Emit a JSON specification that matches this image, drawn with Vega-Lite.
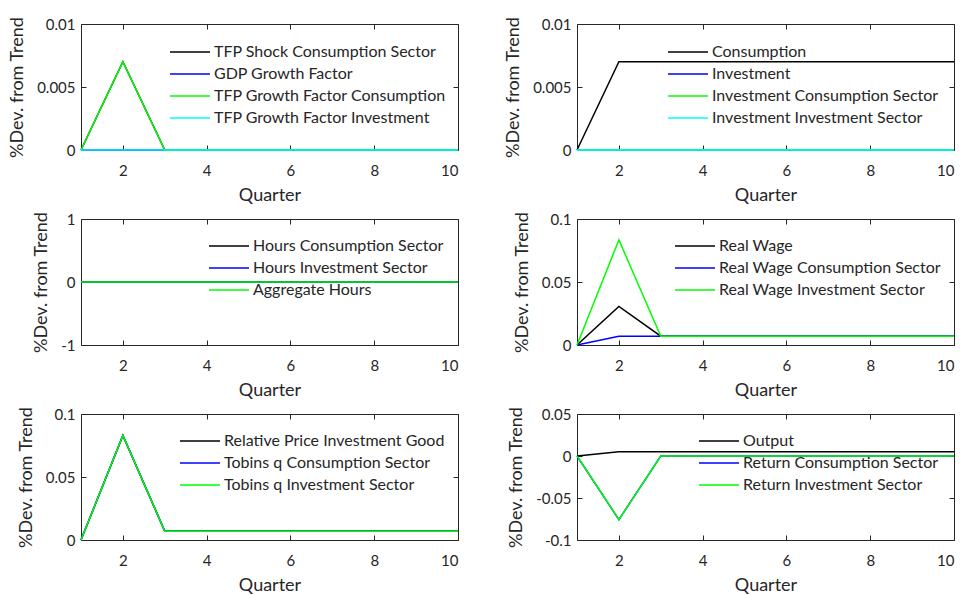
{
  "$schema": "https://vega.github.io/schema/vega-lite/v6.json",
  "background": "white",
  "padding": {"left": 8, "top": 16, "right": 5, "bottom": 5},
  "datasets": {
    "irf": [
      {"p":1,"s":"TFP Shock Consumption Sector","q":1,"v":0},{"p":1,"s":"TFP Shock Consumption Sector","q":2,"v":0.007},{"p":1,"s":"TFP Shock Consumption Sector","q":3,"v":0},{"p":1,"s":"TFP Shock Consumption Sector","q":4,"v":0},{"p":1,"s":"TFP Shock Consumption Sector","q":5,"v":0},{"p":1,"s":"TFP Shock Consumption Sector","q":6,"v":0},{"p":1,"s":"TFP Shock Consumption Sector","q":7,"v":0},{"p":1,"s":"TFP Shock Consumption Sector","q":8,"v":0},{"p":1,"s":"TFP Shock Consumption Sector","q":9,"v":0},{"p":1,"s":"TFP Shock Consumption Sector","q":10,"v":0},
      {"p":1,"s":"GDP Growth Factor","q":1,"v":0},{"p":1,"s":"GDP Growth Factor","q":2,"v":0},{"p":1,"s":"GDP Growth Factor","q":3,"v":0},{"p":1,"s":"GDP Growth Factor","q":4,"v":0},{"p":1,"s":"GDP Growth Factor","q":5,"v":0},{"p":1,"s":"GDP Growth Factor","q":6,"v":0},{"p":1,"s":"GDP Growth Factor","q":7,"v":0},{"p":1,"s":"GDP Growth Factor","q":8,"v":0},{"p":1,"s":"GDP Growth Factor","q":9,"v":0},{"p":1,"s":"GDP Growth Factor","q":10,"v":0},
      {"p":1,"s":"TFP Growth Factor Consumption","q":1,"v":0},{"p":1,"s":"TFP Growth Factor Consumption","q":2,"v":0.007},{"p":1,"s":"TFP Growth Factor Consumption","q":3,"v":0},{"p":1,"s":"TFP Growth Factor Consumption","q":4,"v":0},{"p":1,"s":"TFP Growth Factor Consumption","q":5,"v":0},{"p":1,"s":"TFP Growth Factor Consumption","q":6,"v":0},{"p":1,"s":"TFP Growth Factor Consumption","q":7,"v":0},{"p":1,"s":"TFP Growth Factor Consumption","q":8,"v":0},{"p":1,"s":"TFP Growth Factor Consumption","q":9,"v":0},{"p":1,"s":"TFP Growth Factor Consumption","q":10,"v":0},
      {"p":1,"s":"TFP Growth Factor Investment","q":1,"v":0},{"p":1,"s":"TFP Growth Factor Investment","q":2,"v":0},{"p":1,"s":"TFP Growth Factor Investment","q":3,"v":0},{"p":1,"s":"TFP Growth Factor Investment","q":4,"v":0},{"p":1,"s":"TFP Growth Factor Investment","q":5,"v":0},{"p":1,"s":"TFP Growth Factor Investment","q":6,"v":0},{"p":1,"s":"TFP Growth Factor Investment","q":7,"v":0},{"p":1,"s":"TFP Growth Factor Investment","q":8,"v":0},{"p":1,"s":"TFP Growth Factor Investment","q":9,"v":0},{"p":1,"s":"TFP Growth Factor Investment","q":10,"v":0},

      {"p":2,"s":"Consumption","q":1,"v":0},{"p":2,"s":"Consumption","q":2,"v":0.007},{"p":2,"s":"Consumption","q":3,"v":0.007},{"p":2,"s":"Consumption","q":4,"v":0.007},{"p":2,"s":"Consumption","q":5,"v":0.007},{"p":2,"s":"Consumption","q":6,"v":0.007},{"p":2,"s":"Consumption","q":7,"v":0.007},{"p":2,"s":"Consumption","q":8,"v":0.007},{"p":2,"s":"Consumption","q":9,"v":0.007},{"p":2,"s":"Consumption","q":10,"v":0.007},
      {"p":2,"s":"Investment","q":1,"v":0},{"p":2,"s":"Investment","q":2,"v":0},{"p":2,"s":"Investment","q":3,"v":0},{"p":2,"s":"Investment","q":4,"v":0},{"p":2,"s":"Investment","q":5,"v":0},{"p":2,"s":"Investment","q":6,"v":0},{"p":2,"s":"Investment","q":7,"v":0},{"p":2,"s":"Investment","q":8,"v":0},{"p":2,"s":"Investment","q":9,"v":0},{"p":2,"s":"Investment","q":10,"v":0},
      {"p":2,"s":"Investment Consumption Sector","q":1,"v":0},{"p":2,"s":"Investment Consumption Sector","q":2,"v":0},{"p":2,"s":"Investment Consumption Sector","q":3,"v":0},{"p":2,"s":"Investment Consumption Sector","q":4,"v":0},{"p":2,"s":"Investment Consumption Sector","q":5,"v":0},{"p":2,"s":"Investment Consumption Sector","q":6,"v":0},{"p":2,"s":"Investment Consumption Sector","q":7,"v":0},{"p":2,"s":"Investment Consumption Sector","q":8,"v":0},{"p":2,"s":"Investment Consumption Sector","q":9,"v":0},{"p":2,"s":"Investment Consumption Sector","q":10,"v":0},
      {"p":2,"s":"Investment Investment Sector","q":1,"v":0},{"p":2,"s":"Investment Investment Sector","q":2,"v":0},{"p":2,"s":"Investment Investment Sector","q":3,"v":0},{"p":2,"s":"Investment Investment Sector","q":4,"v":0},{"p":2,"s":"Investment Investment Sector","q":5,"v":0},{"p":2,"s":"Investment Investment Sector","q":6,"v":0},{"p":2,"s":"Investment Investment Sector","q":7,"v":0},{"p":2,"s":"Investment Investment Sector","q":8,"v":0},{"p":2,"s":"Investment Investment Sector","q":9,"v":0},{"p":2,"s":"Investment Investment Sector","q":10,"v":0},

      {"p":3,"s":"Hours Consumption Sector","q":1,"v":0},{"p":3,"s":"Hours Consumption Sector","q":2,"v":0},{"p":3,"s":"Hours Consumption Sector","q":3,"v":0},{"p":3,"s":"Hours Consumption Sector","q":4,"v":0},{"p":3,"s":"Hours Consumption Sector","q":5,"v":0},{"p":3,"s":"Hours Consumption Sector","q":6,"v":0},{"p":3,"s":"Hours Consumption Sector","q":7,"v":0},{"p":3,"s":"Hours Consumption Sector","q":8,"v":0},{"p":3,"s":"Hours Consumption Sector","q":9,"v":0},{"p":3,"s":"Hours Consumption Sector","q":10,"v":0},
      {"p":3,"s":"Hours Investment Sector","q":1,"v":0},{"p":3,"s":"Hours Investment Sector","q":2,"v":0},{"p":3,"s":"Hours Investment Sector","q":3,"v":0},{"p":3,"s":"Hours Investment Sector","q":4,"v":0},{"p":3,"s":"Hours Investment Sector","q":5,"v":0},{"p":3,"s":"Hours Investment Sector","q":6,"v":0},{"p":3,"s":"Hours Investment Sector","q":7,"v":0},{"p":3,"s":"Hours Investment Sector","q":8,"v":0},{"p":3,"s":"Hours Investment Sector","q":9,"v":0},{"p":3,"s":"Hours Investment Sector","q":10,"v":0},
      {"p":3,"s":"Aggregate Hours","q":1,"v":0},{"p":3,"s":"Aggregate Hours","q":2,"v":0},{"p":3,"s":"Aggregate Hours","q":3,"v":0},{"p":3,"s":"Aggregate Hours","q":4,"v":0},{"p":3,"s":"Aggregate Hours","q":5,"v":0},{"p":3,"s":"Aggregate Hours","q":6,"v":0},{"p":3,"s":"Aggregate Hours","q":7,"v":0},{"p":3,"s":"Aggregate Hours","q":8,"v":0},{"p":3,"s":"Aggregate Hours","q":9,"v":0},{"p":3,"s":"Aggregate Hours","q":10,"v":0},

      {"p":4,"s":"Real Wage","q":1,"v":0},{"p":4,"s":"Real Wage","q":2,"v":0.0306},{"p":4,"s":"Real Wage","q":3,"v":0.007},{"p":4,"s":"Real Wage","q":4,"v":0.007},{"p":4,"s":"Real Wage","q":5,"v":0.007},{"p":4,"s":"Real Wage","q":6,"v":0.007},{"p":4,"s":"Real Wage","q":7,"v":0.007},{"p":4,"s":"Real Wage","q":8,"v":0.007},{"p":4,"s":"Real Wage","q":9,"v":0.007},{"p":4,"s":"Real Wage","q":10,"v":0.007},
      {"p":4,"s":"Real Wage Consumption Sector","q":1,"v":0},{"p":4,"s":"Real Wage Consumption Sector","q":2,"v":0.007},{"p":4,"s":"Real Wage Consumption Sector","q":3,"v":0.007},{"p":4,"s":"Real Wage Consumption Sector","q":4,"v":0.007},{"p":4,"s":"Real Wage Consumption Sector","q":5,"v":0.007},{"p":4,"s":"Real Wage Consumption Sector","q":6,"v":0.007},{"p":4,"s":"Real Wage Consumption Sector","q":7,"v":0.007},{"p":4,"s":"Real Wage Consumption Sector","q":8,"v":0.007},{"p":4,"s":"Real Wage Consumption Sector","q":9,"v":0.007},{"p":4,"s":"Real Wage Consumption Sector","q":10,"v":0.007},
      {"p":4,"s":"Real Wage Investment Sector","q":1,"v":0},{"p":4,"s":"Real Wage Investment Sector","q":2,"v":0.0834},{"p":4,"s":"Real Wage Investment Sector","q":3,"v":0.007},{"p":4,"s":"Real Wage Investment Sector","q":4,"v":0.007},{"p":4,"s":"Real Wage Investment Sector","q":5,"v":0.007},{"p":4,"s":"Real Wage Investment Sector","q":6,"v":0.007},{"p":4,"s":"Real Wage Investment Sector","q":7,"v":0.007},{"p":4,"s":"Real Wage Investment Sector","q":8,"v":0.007},{"p":4,"s":"Real Wage Investment Sector","q":9,"v":0.007},{"p":4,"s":"Real Wage Investment Sector","q":10,"v":0.007},

      {"p":5,"s":"Relative Price Investment Good","q":1,"v":0},{"p":5,"s":"Relative Price Investment Good","q":2,"v":0.083},{"p":5,"s":"Relative Price Investment Good","q":3,"v":0.007},{"p":5,"s":"Relative Price Investment Good","q":4,"v":0.007},{"p":5,"s":"Relative Price Investment Good","q":5,"v":0.007},{"p":5,"s":"Relative Price Investment Good","q":6,"v":0.007},{"p":5,"s":"Relative Price Investment Good","q":7,"v":0.007},{"p":5,"s":"Relative Price Investment Good","q":8,"v":0.007},{"p":5,"s":"Relative Price Investment Good","q":9,"v":0.007},{"p":5,"s":"Relative Price Investment Good","q":10,"v":0.007},
      {"p":5,"s":"Tobins q Consumption Sector","q":1,"v":0},{"p":5,"s":"Tobins q Consumption Sector","q":2,"v":0.083},{"p":5,"s":"Tobins q Consumption Sector","q":3,"v":0.007},{"p":5,"s":"Tobins q Consumption Sector","q":4,"v":0.007},{"p":5,"s":"Tobins q Consumption Sector","q":5,"v":0.007},{"p":5,"s":"Tobins q Consumption Sector","q":6,"v":0.007},{"p":5,"s":"Tobins q Consumption Sector","q":7,"v":0.007},{"p":5,"s":"Tobins q Consumption Sector","q":8,"v":0.007},{"p":5,"s":"Tobins q Consumption Sector","q":9,"v":0.007},{"p":5,"s":"Tobins q Consumption Sector","q":10,"v":0.007},
      {"p":5,"s":"Tobins q Investment Sector","q":1,"v":0},{"p":5,"s":"Tobins q Investment Sector","q":2,"v":0.083},{"p":5,"s":"Tobins q Investment Sector","q":3,"v":0.007},{"p":5,"s":"Tobins q Investment Sector","q":4,"v":0.007},{"p":5,"s":"Tobins q Investment Sector","q":5,"v":0.007},{"p":5,"s":"Tobins q Investment Sector","q":6,"v":0.007},{"p":5,"s":"Tobins q Investment Sector","q":7,"v":0.007},{"p":5,"s":"Tobins q Investment Sector","q":8,"v":0.007},{"p":5,"s":"Tobins q Investment Sector","q":9,"v":0.007},{"p":5,"s":"Tobins q Investment Sector","q":10,"v":0.007},

      {"p":6,"s":"Output","q":1,"v":0},{"p":6,"s":"Output","q":2,"v":0.005},{"p":6,"s":"Output","q":3,"v":0.005},{"p":6,"s":"Output","q":4,"v":0.005},{"p":6,"s":"Output","q":5,"v":0.005},{"p":6,"s":"Output","q":6,"v":0.005},{"p":6,"s":"Output","q":7,"v":0.005},{"p":6,"s":"Output","q":8,"v":0.005},{"p":6,"s":"Output","q":9,"v":0.005},{"p":6,"s":"Output","q":10,"v":0.005},
      {"p":6,"s":"Return Consumption Sector","q":1,"v":0},{"p":6,"s":"Return Consumption Sector","q":2,"v":-0.0757},{"p":6,"s":"Return Consumption Sector","q":3,"v":0},{"p":6,"s":"Return Consumption Sector","q":4,"v":0},{"p":6,"s":"Return Consumption Sector","q":5,"v":0},{"p":6,"s":"Return Consumption Sector","q":6,"v":0},{"p":6,"s":"Return Consumption Sector","q":7,"v":0},{"p":6,"s":"Return Consumption Sector","q":8,"v":0},{"p":6,"s":"Return Consumption Sector","q":9,"v":0},{"p":6,"s":"Return Consumption Sector","q":10,"v":0},
      {"p":6,"s":"Return Investment Sector","q":1,"v":0},{"p":6,"s":"Return Investment Sector","q":2,"v":-0.0757},{"p":6,"s":"Return Investment Sector","q":3,"v":0},{"p":6,"s":"Return Investment Sector","q":4,"v":0},{"p":6,"s":"Return Investment Sector","q":5,"v":0},{"p":6,"s":"Return Investment Sector","q":6,"v":0},{"p":6,"s":"Return Investment Sector","q":7,"v":0},{"p":6,"s":"Return Investment Sector","q":8,"v":0},{"p":6,"s":"Return Investment Sector","q":9,"v":0},{"p":6,"s":"Return Investment Sector","q":10,"v":0}
    ]
  },
  "data": {"name": "irf"},
  "columns": 2,
  "spacing": {"row": 69, "column": 119},
  "bounds": "flush",
  "resolve": {"scale": {"color": "independent"}, "legend": {"color": "independent"}},
  "concat": [
    {
      "width": 377, "height": 126,
      "transform": [{"filter": "datum.p === 1"}],
      "layer": [
        {
          "mark": {"type": "line", "strokeWidth": 1.5},
          "encoding": {
            "x": {"field": "q", "type": "quantitative", "scale": {"domain": [1, 10], "nice": false}, "axis": {"values": [2, 4, 6, 8, 10], "title": "Quarter"}},
            "y": {"field": "v", "type": "quantitative", "scale": {"domain": [0, 0.01], "nice": false, "zero": false}, "axis": {"values": [0, 0.005, 0.01], "title": "%Dev. from Trend", "labelExpr": "'' + datum.value"}},
            "color": {"field": "s", "type": "nominal", "scale": {"domain": ["TFP Shock Consumption Sector", "GDP Growth Factor", "TFP Growth Factor Consumption", "TFP Growth Factor Investment"], "range": ["#000000", "#0000ff", "#00ff00", "#00ffff"]}, "legend": {"legendX": 101, "legendY": 20}}
          }
        },
        {
          "mark": {"type": "line", "opacity": 0},
          "encoding": {
            "x": {"field": "q", "type": "quantitative", "axis": {"orient": "top", "values": [2, 4, 6, 8, 10], "labels": false, "title": null}},
            "y": {"field": "v", "type": "quantitative", "axis": {"orient": "right", "values": [0, 0.005, 0.01], "labels": false, "title": null}}
          }
        }
      ],
      "resolve": {"axis": {"x": "independent", "y": "independent"}}
    },
    {
      "width": 377, "height": 126,
      "transform": [{"filter": "datum.p === 2"}],
      "layer": [
        {
          "mark": {"type": "line", "strokeWidth": 1.5},
          "encoding": {
            "x": {"field": "q", "type": "quantitative", "scale": {"domain": [1, 10], "nice": false}, "axis": {"values": [2, 4, 6, 8, 10], "title": "Quarter"}},
            "y": {"field": "v", "type": "quantitative", "scale": {"domain": [0, 0.01], "nice": false, "zero": false}, "axis": {"values": [0, 0.005, 0.01], "title": "%Dev. from Trend", "labelExpr": "'' + datum.value"}},
            "color": {"field": "s", "type": "nominal", "scale": {"domain": ["Consumption", "Investment", "Investment Consumption Sector", "Investment Investment Sector"], "range": ["#000000", "#0000ff", "#00ff00", "#00ffff"]}, "legend": {"legendX": 103, "legendY": 20}}
          }
        },
        {
          "mark": {"type": "line", "opacity": 0},
          "encoding": {
            "x": {"field": "q", "type": "quantitative", "axis": {"orient": "top", "values": [2, 4, 6, 8, 10], "labels": false, "title": null}},
            "y": {"field": "v", "type": "quantitative", "axis": {"orient": "right", "values": [0, 0.005, 0.01], "labels": false, "title": null}}
          }
        }
      ],
      "resolve": {"axis": {"x": "independent", "y": "independent"}}
    },
    {
      "width": 377, "height": 126,
      "transform": [{"filter": "datum.p === 3"}],
      "layer": [
        {
          "mark": {"type": "line", "strokeWidth": 1.5},
          "encoding": {
            "x": {"field": "q", "type": "quantitative", "scale": {"domain": [1, 10], "nice": false}, "axis": {"values": [2, 4, 6, 8, 10], "title": "Quarter"}},
            "y": {"field": "v", "type": "quantitative", "scale": {"domain": [-1, 1], "nice": false, "zero": false}, "axis": {"values": [-1, 0, 1], "title": "%Dev. from Trend", "labelExpr": "'' + datum.value"}},
            "color": {"field": "s", "type": "nominal", "scale": {"domain": ["Hours Consumption Sector", "Hours Investment Sector", "Aggregate Hours"], "range": ["#000000", "#0000ff", "#00ff00"]}, "legend": {"legendX": 140, "legendY": 19}}
          }
        },
        {
          "mark": {"type": "line", "opacity": 0},
          "encoding": {
            "x": {"field": "q", "type": "quantitative", "axis": {"orient": "top", "values": [2, 4, 6, 8, 10], "labels": false, "title": null}},
            "y": {"field": "v", "type": "quantitative", "axis": {"orient": "right", "values": [-1, 0, 1], "labels": false, "title": null}}
          }
        }
      ],
      "resolve": {"axis": {"x": "independent", "y": "independent"}}
    },
    {
      "width": 377, "height": 126,
      "transform": [{"filter": "datum.p === 4"}],
      "layer": [
        {
          "mark": {"type": "line", "strokeWidth": 1.5},
          "encoding": {
            "x": {"field": "q", "type": "quantitative", "scale": {"domain": [1, 10], "nice": false}, "axis": {"values": [2, 4, 6, 8, 10], "title": "Quarter"}},
            "y": {"field": "v", "type": "quantitative", "scale": {"domain": [0, 0.1], "nice": false, "zero": false}, "axis": {"values": [0, 0.05, 0.1], "title": "%Dev. from Trend", "labelExpr": "'' + datum.value"}},
            "color": {"field": "s", "type": "nominal", "scale": {"domain": ["Real Wage", "Real Wage Consumption Sector", "Real Wage Investment Sector"], "range": ["#000000", "#0000ff", "#00ff00"]}, "legend": {"legendX": 110, "legendY": 19}}
          }
        },
        {
          "mark": {"type": "line", "opacity": 0},
          "encoding": {
            "x": {"field": "q", "type": "quantitative", "axis": {"orient": "top", "values": [2, 4, 6, 8, 10], "labels": false, "title": null}},
            "y": {"field": "v", "type": "quantitative", "axis": {"orient": "right", "values": [0, 0.05, 0.1], "labels": false, "title": null}}
          }
        }
      ],
      "resolve": {"axis": {"x": "independent", "y": "independent"}}
    },
    {
      "width": 377, "height": 126,
      "transform": [{"filter": "datum.p === 5"}],
      "layer": [
        {
          "mark": {"type": "line", "strokeWidth": 1.5},
          "encoding": {
            "x": {"field": "q", "type": "quantitative", "scale": {"domain": [1, 10], "nice": false}, "axis": {"values": [2, 4, 6, 8, 10], "title": "Quarter"}},
            "y": {"field": "v", "type": "quantitative", "scale": {"domain": [0, 0.1], "nice": false, "zero": false}, "axis": {"values": [0, 0.05, 0.1], "title": "%Dev. from Trend", "labelExpr": "'' + datum.value"}},
            "color": {"field": "s", "type": "nominal", "scale": {"domain": ["Relative Price Investment Good", "Tobins q Consumption Sector", "Tobins q Investment Sector"], "range": ["#000000", "#0000ff", "#00ff00"]}, "legend": {"legendX": 111, "legendY": 19}}
          }
        },
        {
          "mark": {"type": "line", "opacity": 0},
          "encoding": {
            "x": {"field": "q", "type": "quantitative", "axis": {"orient": "top", "values": [2, 4, 6, 8, 10], "labels": false, "title": null}},
            "y": {"field": "v", "type": "quantitative", "axis": {"orient": "right", "values": [0, 0.05, 0.1], "labels": false, "title": null}}
          }
        }
      ],
      "resolve": {"axis": {"x": "independent", "y": "independent"}}
    },
    {
      "width": 377, "height": 126,
      "transform": [{"filter": "datum.p === 6"}],
      "layer": [
        {
          "mark": {"type": "line", "strokeWidth": 1.5},
          "encoding": {
            "x": {"field": "q", "type": "quantitative", "scale": {"domain": [1, 10], "nice": false}, "axis": {"values": [2, 4, 6, 8, 10], "title": "Quarter"}},
            "y": {"field": "v", "type": "quantitative", "scale": {"domain": [-0.1, 0.05], "nice": false, "zero": false}, "axis": {"values": [-0.1, -0.05, 0, 0.05], "title": "%Dev. from Trend", "labelExpr": "'' + datum.value"}},
            "color": {"field": "s", "type": "nominal", "scale": {"domain": ["Output", "Return Consumption Sector", "Return Investment Sector"], "range": ["#000000", "#0000ff", "#00ff00"]}, "legend": {"legendX": 134, "legendY": 19}}
          }
        },
        {
          "mark": {"type": "line", "opacity": 0},
          "encoding": {
            "x": {"field": "q", "type": "quantitative", "axis": {"orient": "top", "values": [2, 4, 6, 8, 10], "labels": false, "title": null}},
            "y": {"field": "v", "type": "quantitative", "axis": {"orient": "right", "values": [-0.1, -0.05, 0, 0.05], "labels": false, "title": null}}
          }
        }
      ],
      "resolve": {"axis": {"x": "independent", "y": "independent"}}
    }
  ],
  "config": {
    "font": "Lato",
    "view": {"stroke": null},
    "axis": {
      "grid": false,
      "domainColor": "#262626",
      "domainWidth": 1,
      "tickColor": "#262626",
      "tickSize": -5,
      "tickWidth": 1,
      "labelFont": "Lato",
      "labelFontSize": 15,
      "labelColor": "#262626",
      "titleFont": "Lato",
      "titleFontSize": 18,
      "titleFontWeight": "normal",
      "titleColor": "#262626"
    },
    "axisX": {"labelPadding": 18, "titlePadding": 8},
    "axisY": {"labelPadding": 11, "titlePadding": 10},
    "legend": {
      "orient": "none",
      "title": null,
      "direction": "vertical",
      "padding": 0,
      "symbolType": "M-4,0L4,0",
      "symbolSize": 100,
      "symbolStrokeWidth": 1.5,
      "labelFont": "Lato",
      "labelFontSize": 16,
      "labelColor": "#262626",
      "labelOffset": 16,
      "rowPadding": 6,
      "labelLimit": 0
    }
  }
}
